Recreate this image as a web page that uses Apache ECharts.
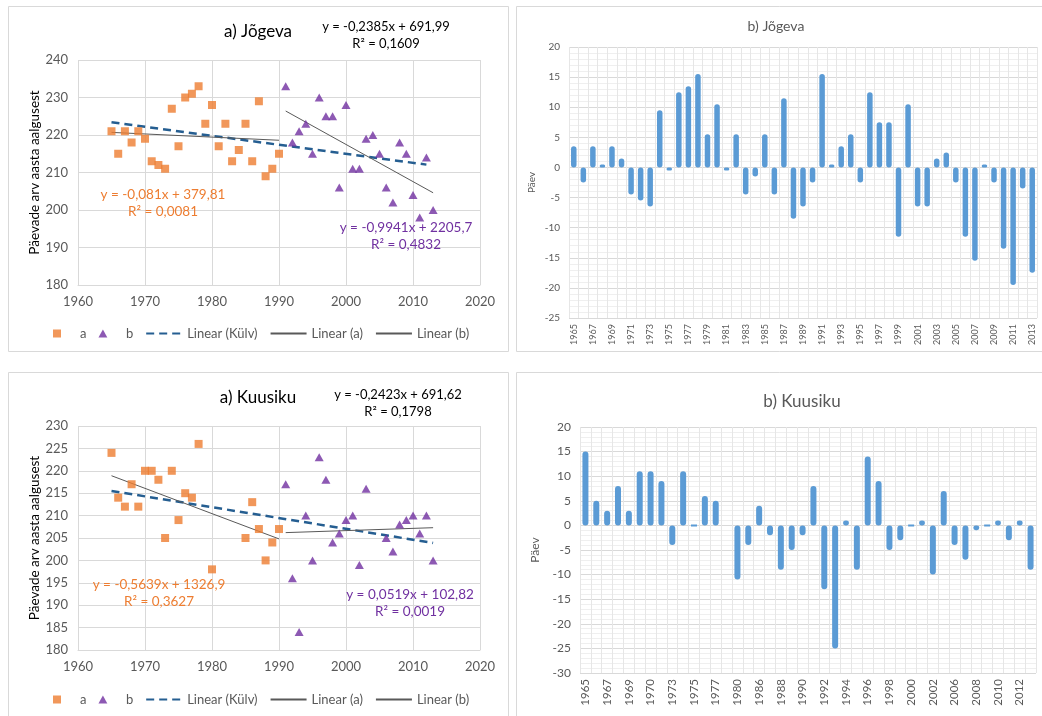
<!DOCTYPE html>
<html>
<head>
<meta charset="utf-8">
<script src="https://cdn.jsdelivr.net/npm/echarts@6/dist/echarts.min.js"></script>
<style>
html,body{margin:0;padding:0;background:#fff;}
#chart{width:1042px;height:716px;}
</style>
</head>
<body>
<div id="chart"></div>
<script>
// ---------- Jõgeva scatter ----------
var jogAYears = [1965,1966,1967,1968,1969,1970,1971,1972,1973,1974,1975,1976,1977,1978,1979,1980,1981,1982,1983,1984,1985,1986,1987,1988,1989,1990];
var jogAVals  = [221,215,221,218,221,219,213,212,211,227,217,230,231,233,223,228,217,223,213,216,223,213,229,209,211,215];
var jogBYears = [1991,1992,1993,1994,1995,1996,1997,1998,1999,2000,2001,2002,2003,2004,2005,2006,2007,2008,2009,2010,2011,2012,2013];
var jogBVals  = [233,218,221,223,215,230,225,225,206,228,211,211,219,220,215,206,202,218,215,204,198,214,200];
// trend line end points
var jogTrendKulv = [[1965,223.4],[2012,212.1]];
var jogTrendA    = [[1965,220.7],[1990,218.6]];
var jogTrendB    = [[1991,226.4],[2013,204.6]];

// ---------- Kuusiku scatter ----------
var kuuAYears = [1965,1966,1967,1968,1969,1970,1971,1972,1973,1974,1975,1976,1977,1978,1980,1985,1986,1987,1988,1989,1990];
var kuuAVals  = [224,214,212,217,212,220,220,218,205,220,209,215,214,226,198,205,213,207,200,204,207];
var kuuBYears = [1991,1992,1993,1994,1995,1996,1997,1998,1999,2000,2001,2002,2003,2006,2007,2008,2009,2010,2011,2012,2013];
var kuuBVals  = [217,196,184,210,200,223,218,204,206,209,210,199,216,205,202,208,209,210,206,210,200];
var kuuTrendKulv = [[1965,215.5],[2013,203.9]];
var kuuTrendA    = [[1965,218.9],[1990,204.8]];
var kuuTrendB    = [[1991,206.2],[2013,207.3]];

// ---------- Jõgeva anomalies ----------
var jogBarCats = ['1965','1966','1967','1968','1969','1970','1971','1972','1973','1974','1975','1976','1977','1978','1979','1980','1981','1982','1983','1984','1985','1986','1987','1988','1989','1990','1991','1992','1993','1994','1995','1996','1997','1998','1999','2000','2001','2002','2003','2004','2005','2006','2007','2008','2009','2010','2011','2012','2013'];
var jogBarVals = [3.5,-2.5,3.5,0.5,3.5,1.5,-4.5,-5.5,-6.5,9.5,-0.5,12.5,13.5,15.5,5.5,10.5,-0.5,5.5,-4.5,-1.5,5.5,-4.5,11.5,-8.5,-6.5,-2.5,15.5,0.5,3.5,5.5,-2.5,12.5,7.5,7.5,-11.5,10.5,-6.5,-6.5,1.5,2.5,-2.5,-11.5,-15.5,0.5,-2.5,-13.5,-19.5,-3.5,-17.5];

// ---------- Kuusiku anomalies ----------
var kuuBarCats = ['1965','1966','1967','1968','1969','1970','1970','1972','1973','1974','1975','1976','1977','1978','1980','1985','1986','1987','1988','1989','1990','1991','1992','1993','1994','1995','1996','1997','1998','1999','2000','2001','2002','2003','2006','2007','2008','2009','2010','2011','2012','2013'];
var kuuBarVals = [15,5,3,8,3,11,11,9,-4,11,0,6,5,null,-11,-4,4,-2,-9,-5,-2,8,-13,-25,1,-9,14,9,-5,-3,0,1,-10,7,-4,-7,-1,0,1,-3,1,-9];

// ---------- labels ----------
var titles = ['a) Jõgeva','b) Jõgeva','a) Kuusiku','b) Kuusiku'];
var eqJog = ['y = -0,2385x + 691,99','R² = 0,1609','y = -0,081x + 379,81','R² = 0,0081','y = -0,9941x + 2205,7','R² = 0,4832'];
var eqKuu = ['y = -0,2423x + 691,62','R² = 0,1798','y = -0,5639x + 1326,9','R² = 0,3627','y = 0,0519x + 102,82','R² = 0,0019'];
var yNameScatter = 'Päevade arv aasta aalgusest';
var yNameBar = 'Päev';
var legendNames = ['a','b','Linear (Külv)','Linear (a)','Linear (b)'];

function zip(xs, ys){ return xs.map(function(x,i){ return [x, ys[i]]; }); }

var FONT = 'Lato';
var ORANGE = '#ED7D31', PURPLE = '#7030A0', BLUE = '#5B9BD5', DASH = '#255E91', GRAYLINE = '#595959';
var GRID = '#d9d9d9', MINOR = '#efefef', TXT = '#595959';

function scatterX(idx){
  return {gridIndex: idx, type:'value', min:1960, max:2020, interval:10,
    axisLine:{show:true, lineStyle:{color:GRID}}, axisTick:{show:false},
    axisLabel:{color:TXT, fontSize:13, fontFamily:FONT, margin:10, formatter:function(v){ return String(v); }},
    splitLine:{show:true, lineStyle:{color:GRID}}};
}
function scatterY(idx, mn, mx, iv){
  return {gridIndex: idx, type:'value', min:mn, max:mx, interval:iv,
    name: yNameScatter, nameLocation:'middle', nameGap:36,
    nameTextStyle:{color:'#000', fontSize:13.5, fontFamily:FONT},
    axisLine:{show:false}, axisTick:{show:false},
    axisLabel:{color:TXT, fontSize:13, fontFamily:FONT, margin:10},
    splitLine:{show:true, lineStyle:{color:GRID}}};
}
function barX(idx, cats, fs){
  return {gridIndex: idx, type:'category', data:cats, position:'bottom',
    axisLine:{show:false}, axisTick:{show:false},
    axisLabel:{interval:1, rotate:90, color:TXT, fontSize:fs, fontFamily:FONT, margin:6},
    splitLine:{show:true, interval:0, lineStyle:{color:'#e6e6e6'}}};
}
function barY(idx, mn, mx, fs, gap, nfs){
  return {gridIndex: idx, type:'value', min:mn, max:mx, interval:5,
    name: yNameBar, nameLocation:'middle', nameGap:gap,
    nameTextStyle:{color:TXT, fontSize:nfs, fontFamily:FONT},
    axisLine:{show:false}, axisTick:{show:false},
    axisLabel:{color:TXT, fontSize:fs, fontFamily:FONT, margin:9},
    splitLine:{show:true, lineStyle:{color:GRID}},
    minorTick:{show:false, splitNumber:5},
    minorSplitLine:{show:true, lineStyle:{color:MINOR}}};
}
function scatterSeries(idx, aY, aV, bY, bV, tK, tA, tB){
  return [
    {name:'a', type:'scatter', xAxisIndex:idx, yAxisIndex:idx, data:zip(aY,aV), symbol:'rect', symbolSize:8, itemStyle:{color:ORANGE}, z:5},
    {name:'b', type:'scatter', xAxisIndex:idx, yAxisIndex:idx, data:zip(bY,bV), symbol:'triangle', symbolSize:[9,8], itemStyle:{color:PURPLE}, z:5},
    {name:'Linear (Külv)', type:'line', xAxisIndex:idx, yAxisIndex:idx, data:tK, symbol:'none', lineStyle:{color:DASH, width:2.5, type:[8,5]}, itemStyle:{color:DASH}, z:4},
    {name:'Linear (a)', type:'line', xAxisIndex:idx, yAxisIndex:idx, data:tA, symbol:'none', lineStyle:{color:GRAYLINE, width:1}, itemStyle:{color:GRAYLINE}, z:4},
    {name:'Linear (b)', type:'line', xAxisIndex:idx, yAxisIndex:idx, data:tB, symbol:'none', lineStyle:{color:GRAYLINE, width:1}, itemStyle:{color:GRAYLINE}, z:4}
  ];
}
function barSeries(idx, vals, bw){
  return {name:'anom'+idx, type:'bar', xAxisIndex:idx, yAxisIndex:idx, data:vals, barWidth:bw,
    itemStyle:{color:BLUE, borderColor:BLUE, borderWidth:2, borderRadius:2}};
}
function txt(x, y, s, size, color){
  return {type:'text', x:x, y:y, silent:true, z:10,
    style:{text:s, fill:color, font: size+'px '+FONT, align:'center', verticalAlign:'middle', textAlign:'center', textVerticalAlign:'middle'}};
}
function box(x, y, w, h){
  return {type:'rect', silent:true, z:0, shape:{x:x, y:y, width:w, height:h}, style:{fill:'none', stroke:'#d9d9d9', lineWidth:1}};
}
function legendAt(top){
  var hide = {opacity:0};
  return {left:48, top:top, itemWidth:36, itemHeight:8, itemGap:12, symbolKeepAspect:true,
    textStyle:{color:TXT, fontSize:13, fontFamily:FONT},
    data:[
      {name:legendNames[0], icon:'path://M0,0h10v10h-10z', symbolKeepAspect:true},
      {name:legendNames[1], icon:'path://M5,0L10,9L0,9z', symbolKeepAspect:true},
      {name:legendNames[2], itemStyle:hide},
      {name:legendNames[3], itemStyle:hide},
      {name:legendNames[4], itemStyle:hide}
    ]};
}

var option = {
  animation:false,
  backgroundColor:'#fff',
  grid:[
    {left:78, top:60, width:402, height:225},
    {left:569, top:47, width:468, height:271},
    {left:78, top:426, width:402, height:224},
    {left:580, top:427, width:456, height:246}
  ],
  xAxis:[scatterX(0), barX(1, jogBarCats, 9), scatterX(2), barX(3, kuuBarCats, 11.5)],
  yAxis:[scatterY(0,180,240,10), barY(1,-25,20,10,32,10), scatterY(2,180,230,5), barY(3,-30,20,12,39,12)],
  legend:[legendAt(322), legendAt(688)],
  series: [].concat(
    scatterSeries(0, jogAYears, jogAVals, jogBYears, jogBVals, jogTrendKulv, jogTrendA, jogTrendB),
    [barSeries(1, jogBarVals, 5.5)],
    scatterSeries(2, kuuAYears, kuuAVals, kuuBYears, kuuBVals, kuuTrendKulv, kuuTrendA, kuuTrendB),
    [barSeries(3, kuuBarVals, 6)]
  ),
  graphic:{elements:[
    box(8.5,6.5,500,345), box(516.5,6.5,540,345), box(8.5,372.5,500,360), box(516.5,372.5,540,360),
    txt(258,32,titles[0],17,'#000'),
    txt(776,26,titles[1],14,TXT),
    txt(258,398,titles[2],17,'#000'),
    txt(802,402,titles[3],17,TXT),
    txt(386,27,eqJog[0],13,'#000'), txt(386,44,eqJog[1],13,'#000'),
    txt(163,195,eqJog[2],13.5,ORANGE), txt(163,212,eqJog[3],13.5,ORANGE),
    txt(406,228,eqJog[4],13.5,PURPLE), txt(406,245,eqJog[5],13.5,PURPLE),
    txt(398,395,eqKuu[0],13,'#000'), txt(398,412,eqKuu[1],13,'#000'),
    txt(159,585,eqKuu[2],13.5,ORANGE), txt(159,602,eqKuu[3],13.5,ORANGE),
    txt(410,595,eqKuu[4],13.5,PURPLE), txt(410,612,eqKuu[5],13.5,PURPLE)
  ]}
};
var chart = echarts.init(document.getElementById('chart'), null, {renderer:'canvas'});
chart.setOption(option);
</script>
</body>
</html>
